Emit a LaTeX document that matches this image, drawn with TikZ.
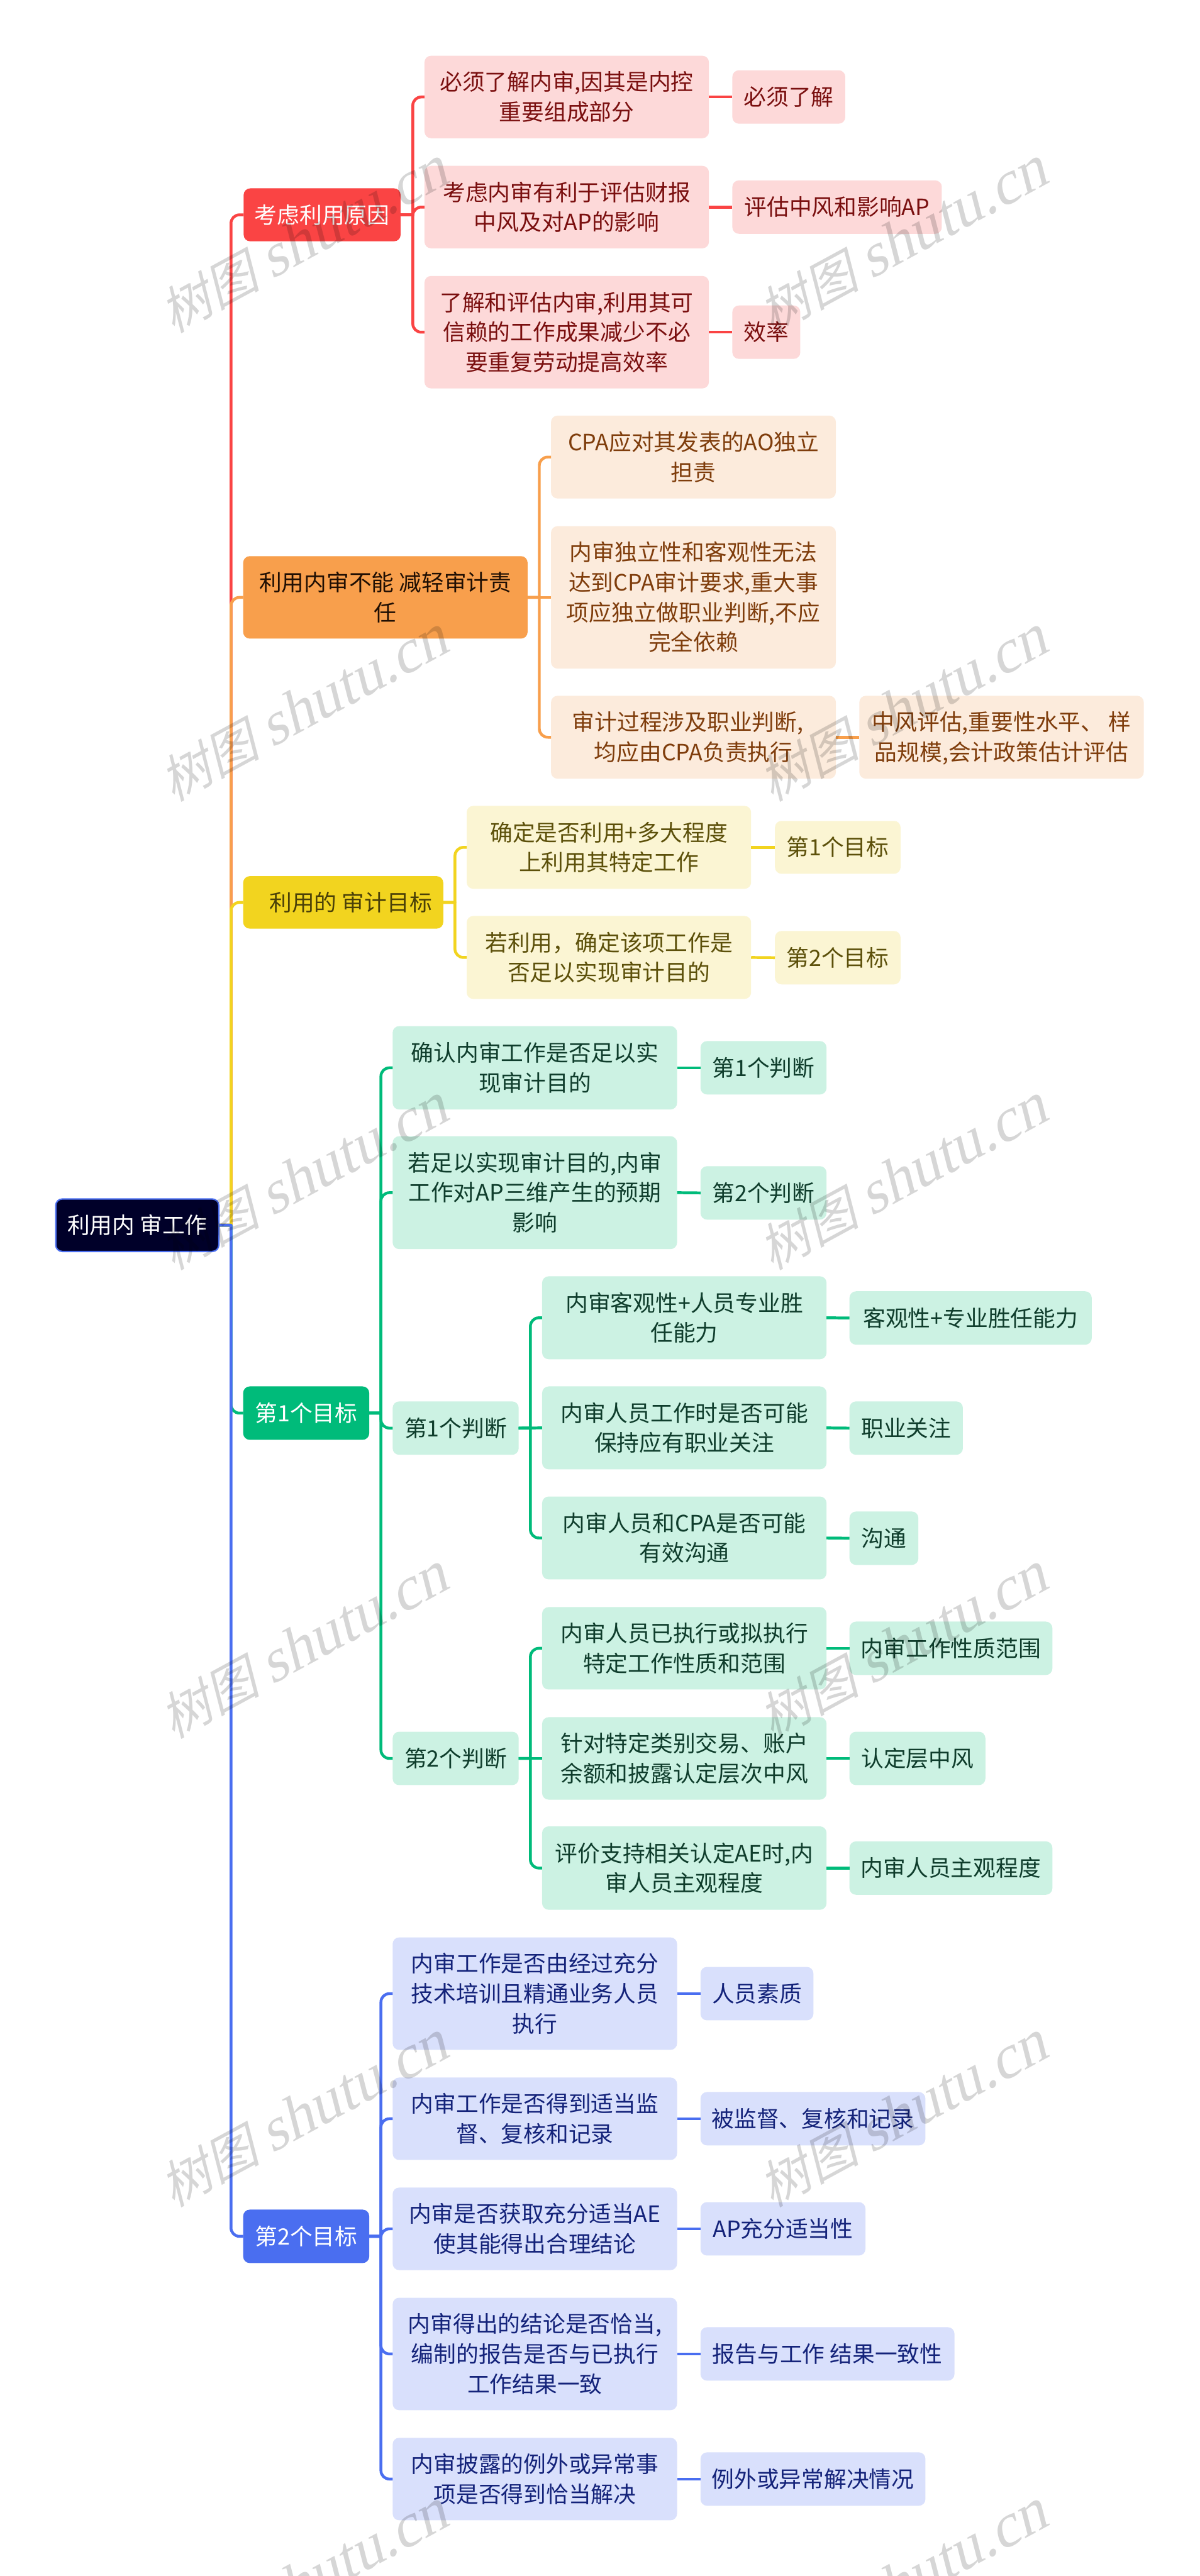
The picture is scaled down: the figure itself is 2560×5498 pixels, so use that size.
\documentclass[tikz,border=0pt]{standalone}
\usepackage{fontspec}
\setmainfont{Noto Sans CJK SC}
\newfontfamily\wmcjk[FakeSlant=0.25]{Noto Sans CJK SC}
\newfontfamily\wmlat[FakeSlant=0.25]{Liberation Serif}
\definecolor{mred}{HTML}{FA4444}\definecolor{lred}{HTML}{FDD9D9}\definecolor{tred}{HTML}{7A0F0F}
\definecolor{mora}{HTML}{F89F4C}\definecolor{lora}{HTML}{FCEBDC}\definecolor{tora}{HTML}{7F3D0C}
\definecolor{myel}{HTML}{F2D41F}\definecolor{lyel}{HTML}{FBF5D3}\definecolor{tyel}{HTML}{5C500A}
\definecolor{mgre}{HTML}{00BB7A}\definecolor{lgre}{HTML}{CCF2E3}\definecolor{tgre}{HTML}{0F3D2C}
\definecolor{mblu}{HTML}{4A6EF0}\definecolor{lblu}{HTML}{D9E0FC}\definecolor{tblu}{HTML}{14237A}
\definecolor{rootbg}{HTML}{000029}
\newcommand\mystrut{\rule[-6.9pt]{0pt}{32pt}}
\newcommand\bx[7]{\node[#2,minimum width={(#5-#3)*0.5pt},minimum height={(#6-#4)*0.5pt}] (#1) at ({(#3+#5)/2},{(#4+#6)/2}) {\mystrut #7\mystrut};}
\tikzset{
  box/.style={rectangle,rounded corners=7pt,inner sep=0pt,outer sep=0pt,align=center,font=\fontsize{24}{32}\selectfont},
  rootbox/.style={box,fill=rootbg,draw=mblu,line width=1.5pt,text=white},
  redtop/.style={box,fill=mred,text=white},   redbox/.style={box,fill=lred,text=tred},
  oratop/.style={box,fill=mora,text=black!75!tora}, orabox/.style={box,fill=lora,text=tora},
  yeltop/.style={box,fill=myel,text=tyel!80!black}, yelbox/.style={box,fill=lyel,text=tyel},
  gretop/.style={box,fill=mgre,text=white},   grebox/.style={box,fill=lgre,text=tgre},
  blutop/.style={box,fill=mblu,text=white},   blubox/.style={box,fill=lblu,text=tblu},
  link/.style={line width=3pt,line join=round},
  wmark/.style={rotate=28.5,text=black,text opacity=0.16,inner sep=0pt}
}
% parent, spine coordinate, child: square at the spine's start, rounded at the child
\newcommand\cn[4]{\draw[link,#1] (#2.east) -- (#2.east -| #3) [rounded corners=9pt] -- (#4.west -| #3) -- (#4.west);}
\newcommand\tk[3]{\draw[link,#1] (#2.east) -- (#2.east -| tr) [rounded corners=9pt] -- (#3.west -| tr) -- (#3.west);}
\newcommand\lk[3]{\draw[link,#1] (#2.east) -- (#3.west);}
\begin{document}
\begin{tikzpicture}[x=0.5pt,y=-0.5pt]
\useasboundingbox (0,0) rectangle (2560,5498);
\fill[white] (0,0) rectangle (2560,5498);
\clip (0,0) rectangle (2560,5498);
\coordinate (tr) at (493,0);
\coordinate (va) at (881,0);
\coordinate (vb) at (1151,0);
\coordinate (vc) at (971,0);
\coordinate (vd) at (813,0);
\coordinate (ve) at (1132,0);
\coordinate (vf) at (813,0);

\bx{root}{rootbox}{119}{2559}{467}{2671}{利用内 审工作}

% red
\bx{a}{redtop}{520}{402}{855}{515}{考虑利用原因}
\bx{a1}{redbox}{906}{119}{1513}{295}{必须了解内审,因其是内控\\\mystrut 重要组成部分}
\bx{a1x}{redbox}{1563}{150}{1804}{264}{必须了解}
\bx{a2}{redbox}{906}{354}{1513}{530}{考虑内审有利于评估财报\\\mystrut 中风及对AP的影响}
\bx{a2x}{redbox}{1563}{385}{2010}{499}{评估中风和影响AP}
\bx{a3}{redbox}{906}{589}{1513}{829}{了解和评估内审,利用其可\\\mystrut 信赖的工作成果减少不必\\\mystrut 要重复劳动提高效率}
\bx{a3x}{redbox}{1563}{652}{1708}{766}{效率}

% orange
\bx{b}{oratop}{519}{1187}{1126}{1363}{利用内审不能 减轻审计责\\\mystrut 任}
\bx{b1}{orabox}{1176}{887}{1784}{1064}{CPA应对其发表的AO独立\\\mystrut 担责}
\bx{b2}{orabox}{1176}{1123}{1784}{1427}{内审独立性和客观性无法\\\mystrut 达到CPA审计要求,重大事\\\mystrut 项应独立做职业判断,不应\\\mystrut 完全依赖}
\bx{b3}{orabox}{1176}{1485}{1784}{1662}{审计过程涉及职业判断,\hspace*{12pt}\\\mystrut 均应由CPA负责执行}
\bx{b3x}{orabox}{1834}{1485}{2441}{1662}{中风评估,重要性水平、 样\\\mystrut 品规模,会计政策估计评估}

% yellow
\bx{c}{yeltop}{519}{1870}{946}{1982}{\hspace*{16pt}利用的 审计目标}
\bx{c1}{yelbox}{996}{1720}{1603}{1897}{确定是否利用+多大程度\\\mystrut 上利用其特定工作}
\bx{c1x}{yelbox}{1654}{1752}{1922}{1865}{第1个目标}
\bx{c2}{yelbox}{996}{1955}{1603}{2132}{若利用，确定该项工作是\\\mystrut 否足以实现审计目的}
\bx{c2x}{yelbox}{1654}{1987}{1922}{2101}{第2个目标}

% green
\bx{d}{gretop}{519}{2959}{788}{3073}{第1个目标}
\bx{d1}{grebox}{838}{2190}{1445}{2368}{确认内审工作是否足以实\\\mystrut 现审计目的}
\bx{d1x}{grebox}{1495}{2222}{1764}{2336}{第1个判断}
\bx{d2}{grebox}{838}{2425}{1445}{2666}{若足以实现审计目的,内审\\\mystrut 工作对AP三维产生的预期\\\mystrut 影响}
\bx{d2x}{grebox}{1495}{2489}{1764}{2603}{第2个判断}
\bx{d3}{grebox}{838}{2991}{1107}{3105}{第1个判断}
\bx{d31}{grebox}{1157}{2724}{1764}{2901}{内审客观性+人员专业胜\\\mystrut 任能力}
\bx{d31x}{grebox}{1813}{2756}{2330}{2870}{客观性+专业胜任能力}
\bx{d32}{grebox}{1157}{2959}{1764}{3136}{内审人员工作时是否可能\\\mystrut 保持应有职业关注}
\bx{d32x}{grebox}{1813}{2991}{2055}{3105}{职业关注}
\bx{d33}{grebox}{1157}{3194}{1764}{3371}{内审人员和CPA是否可能\\\mystrut 有效沟通}
\bx{d33x}{grebox}{1813}{3226}{1960}{3340}{沟通}
\bx{d4}{grebox}{838}{3696}{1107}{3810}{第2个判断}
\bx{d41}{grebox}{1157}{3430}{1764}{3606}{内审人员已执行或拟执行\\\mystrut 特定工作性质和范围}
\bx{d41x}{grebox}{1813}{3461}{2246}{3575}{内审工作性质范围}
\bx{d42}{grebox}{1157}{3665}{1764}{3841}{针对特定类别交易、账户\\\mystrut 余额和披露认定层次中风}
\bx{d42x}{grebox}{1813}{3696}{2103}{3810}{认定层中风}
\bx{d43}{grebox}{1157}{3898}{1764}{4076}{评价支持相关认定AE时,内\\\mystrut 审人员主观程度}
\bx{d43x}{grebox}{1813}{3930}{2246}{4044}{内审人员主观程度}

% blue
\bx{e}{blutop}{519}{4716}{788}{4830}{第2个目标}
\bx{e1}{blubox}{838}{4135}{1445}{4375}{内审工作是否由经过充分\\\mystrut 技术培训且精通业务人员\\\mystrut 执行}
\bx{e1x}{blubox}{1495}{4198}{1736}{4312}{人员素质}
\bx{e2}{blubox}{838}{4434}{1445}{4610}{内审工作是否得到适当监\\\mystrut 督、复核和记录}
\bx{e2x}{blubox}{1495}{4465}{1975}{4579}{被监督、复核和记录}
\bx{e3}{blubox}{838}{4669}{1445}{4845}{内审是否获取充分适当AE\\\mystrut 使其能得出合理结论}
\bx{e3x}{blubox}{1495}{4700}{1847}{4814}{AP充分适当性}
\bx{e4}{blubox}{838}{4904}{1445}{5144}{内审得出的结论是否恰当,\\\mystrut 编制的报告是否与已执行\\\mystrut 工作结果一致}
\bx{e4x}{blubox}{1495}{4967}{2037}{5081}{报告与工作 结果一致性}
\bx{e5}{blubox}{838}{5203}{1445}{5379}{内审披露的例外或异常事\\\mystrut 项是否得到恰当解决}
\bx{e5x}{blubox}{1495}{5234}{1975}{5348}{例外或异常解决情况}

% trunk
\tk{mred}{root}{a}
\tk{mora}{root}{b}
\tk{myel}{root}{c}
\tk{mgre}{root}{d}
\tk{mblu}{root}{e}

% red links
\cn{mred}{a}{va}{a1}\cn{mred}{a}{va}{a2}\cn{mred}{a}{va}{a3}
\lk{mred}{a1}{a1x}\lk{mred}{a2}{a2x}\lk{mred}{a3}{a3x}
% orange links
\cn{mora}{b}{vb}{b1}\lk{mora}{b}{b2}\cn{mora}{b}{vb}{b3}
\lk{mora}{b3}{b3x}
% yellow links
\cn{myel}{c}{vc}{c1}\cn{myel}{c}{vc}{c2}
\lk{myel}{c1}{c1x}\lk{myel}{c2}{c2x}
% green links
\cn{mgre}{d}{vd}{d1}\cn{mgre}{d}{vd}{d2}\cn{mgre}{d}{vd}{d3}\cn{mgre}{d}{vd}{d4}
\lk{mgre}{d1}{d1x}\lk{mgre}{d2}{d2x}
\cn{mgre}{d3}{ve}{d31}\lk{mgre}{d3}{d32}\cn{mgre}{d3}{ve}{d33}
\lk{mgre}{d31}{d31x}\lk{mgre}{d32}{d32x}\lk{mgre}{d33}{d33x}
\cn{mgre}{d4}{ve}{d41}\lk{mgre}{d4}{d42}\cn{mgre}{d4}{ve}{d43}
\lk{mgre}{d41}{d41x}\lk{mgre}{d42}{d42x}\lk{mgre}{d43}{d43x}
% blue links
\cn{mblu}{e}{vf}{e1}\cn{mblu}{e}{vf}{e2}\cn{mblu}{e}{vf}{e3}\cn{mblu}{e}{vf}{e4}\cn{mblu}{e}{vf}{e5}
\lk{mblu}{e1}{e1x}\lk{mblu}{e2}{e2x}\lk{mblu}{e3}{e3x}\lk{mblu}{e4}{e4x}\lk{mblu}{e5}{e5x}

% watermark
\foreach \cx/\cc in {647/l,1926/r}{
  \foreach \ry/\rr in {514/1,1514/2,2514/3,3514/4,4514/5,5514/6}{
    \node[wmark] (wm\cc\rr) at (\cx,\ry) {{\wmcjk\fontsize{54}{54}\selectfont 树图}\hspace{12pt}{\wmlat\fontsize{65}{65}\selectfont shutu.cn}};
  }
}
\end{tikzpicture}
\end{document}
